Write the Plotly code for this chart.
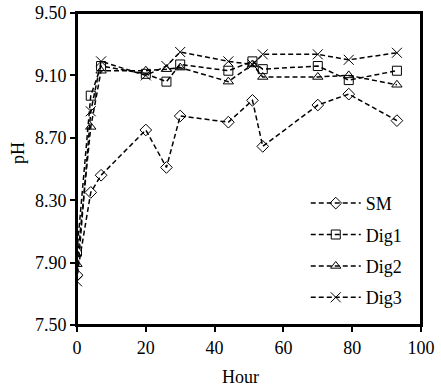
import plotly.graph_objects as go

hours = [0, 4, 7, 20, 26, 30, 44, 51, 54, 70, 79, 93]
sm = [7.82, 8.35, 8.46, 8.75, 8.51, 8.84, 8.80, 8.94, 8.645, 8.91, 8.98, 8.81]
dig1 = [7.97, 8.97, 9.16, 9.11, 9.06, 9.17, 9.13, 9.19, 9.14, 9.16, 9.07, 9.13]
dig2 = [7.89, 8.77, 9.13, 9.13, 9.14, 9.15, 9.06, 9.17, 9.09, 9.09, 9.10, 9.04]
dig3 = [7.78, 8.87, 9.19, 9.10, 9.16, 9.25, 9.19, 9.17, 9.235, 9.235, 9.20, 9.245]

series = [("SM", sm, "diamond-open"), ("Dig1", dig1, "square-open"),
          ("Dig2", dig2, "triangle-up-open"), ("Dig3", dig3, "x-thin-open")]

FONT = "Liberation Serif"
fig = go.Figure()
for name, vals, sym in series:
    fig.add_trace(go.Scatter(
        x=hours, y=vals, name=name, mode="lines+markers", legendgroup=name,
        line=dict(color="black", width=1.5, dash="5px,3px"),
        marker=dict(symbol=sym, size=9 if sym != "x-thin-open" else 10,
                    color="black", line=dict(color="black", width=1)),
        hoverinfo="skip",
    ))

L, R, T, B = 77, 20, 13, 63
W, H = 441, 388
pw, ph = W - L - R, H - T - B

fig.update_layout(
    width=W, height=H,
    margin=dict(l=L, r=R, t=T, b=B, autoexpand=False),
    paper_bgcolor="white", plot_bgcolor="white",
    font=dict(family=FONT, size=17, color="black"),
    showlegend=True,
    hovermode=False,
    legend=dict(x=0.665, xanchor="left", y=0.449, yanchor="top",
                bgcolor="rgba(0,0,0,0)", font=dict(size=18),
                tracegroupgap=5, itemwidth=50),
    xaxis=dict(range=[0, 100], tickvals=[0, 20, 40, 60, 80, 100],
               showgrid=False, zeroline=False, showline=True, linecolor="black",
               linewidth=2, mirror=True, ticks="outside", ticklen=5, tickwidth=2,
               tickcolor="black", tickfont=dict(size=18), automargin=False),
    yaxis=dict(range=[7.5, 9.5], tickvals=[7.5, 7.9, 8.3, 8.7, 9.1, 9.5],
               ticktext=["7.50", "7.90", "8.30", "8.70", "9.10", "9.50"],
               showgrid=False, zeroline=False, showline=True, linecolor="black",
               linewidth=2, mirror=True, ticks="outside", ticklen=5, tickwidth=2,
               tickcolor="black", tickfont=dict(size=18), automargin=False),
    shapes=[dict(type="rect", xref="x domain", yref="y domain", x0=0, x1=1, y0=0, y1=1,
                 line=dict(color="black", width=2), layer="above")],
    annotations=[
        dict(text="Hour", xref="paper", yref="paper",
             x=(240 - L) / pw, y=-(377 - (H - B)) / ph, yanchor="middle",
             showarrow=False, font=dict(size=18)),
        dict(text="pH", xref="paper", yref="paper",
             x=-(L - 18) / pw, y=((H - B) - 153) / ph, xanchor="center", yanchor="middle",
             textangle=-90, showarrow=False, font=dict(size=18)),
    ],
)
fig.write_html("out.html", config={"displayModeBar": False},
               post_script="document.body.style.margin='0';document.body.style.overflow='hidden';")
